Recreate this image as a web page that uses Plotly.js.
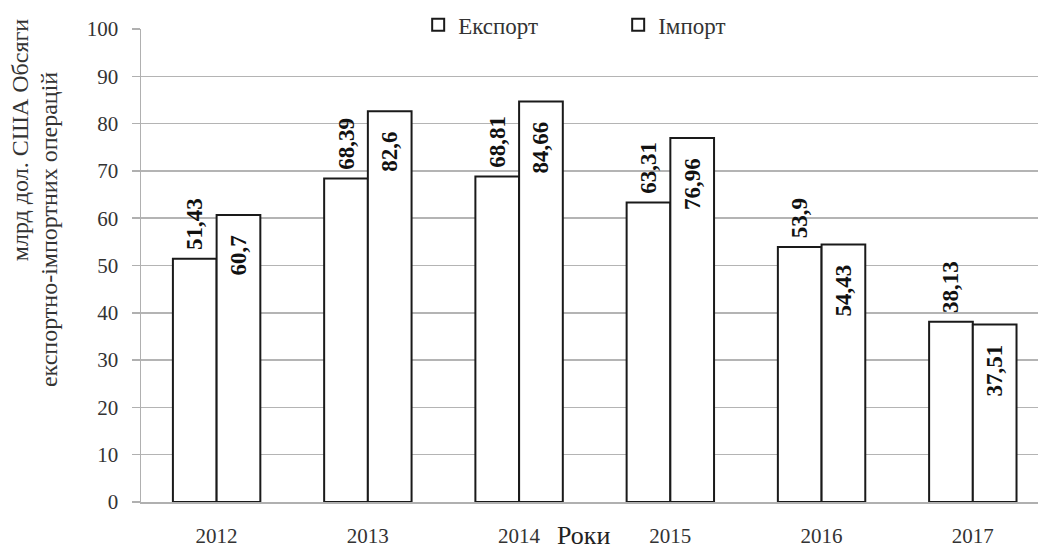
<!DOCTYPE html>
<html>
<head>
<meta charset="utf-8">
<script src="https://cdn.plot.ly/plotly-3.0.1.min.js"></script>
<style>html,body{margin:0;padding:0;background:#fff;}#chart{width:1038px;height:552px;}</style>
</head>
<body>
<div id="chart"></div>
<script>
const years = ['2012', '2013', '2014', '2015', '2016', '2017'];
const exportValues = [51.43, 68.39, 68.81, 63.31, 53.9, 38.13];
const importValues = [60.7, 82.6, 84.66, 76.96, 54.43, 37.51];
const exportName = 'Експорт';
const importName = 'Імпорт';
const yTitleLine1 = 'млрд дол. США Обсяги';
const yTitleLine2 = 'експортно-імпортних операцій';
const xTitle = 'Роки';

const fmt = v => String(v).replace('.', ',');
const NB = '\u00a0';
const serif = 'Liberation Serif, Times New Roman, serif';

const barStyle = {color: '#ffffff', line: {color: '#1a1a1a', width: 2}};

const traces = [
  {
    type: 'bar', name: exportName, x: years, y: exportValues,
    // leading no-break space leaves the small gap above the bar seen in the reference
    text: exportValues.map(v => NB + fmt(v)), textposition: 'outside', textangle: -90,
    textfont: {family: serif, size: 23, color: '#111', weight: 'bold'},
    marker: barStyle, cliponaxis: false, constraintext: 'none', hoverinfo: 'x+y'
  },
  {
    type: 'bar', name: importName, x: years, y: importValues,
    // trailing no-break spaces push the label down from the bar top as in the reference
    text: importValues.map(v => fmt(v) + NB + NB + NB), textposition: 'inside', insidetextanchor: 'end', textangle: -90,
    textfont: {family: serif, size: 23, color: '#111', weight: 'bold'},
    marker: barStyle, cliponaxis: false, constraintext: 'none', hoverinfo: 'x+y'
  }
];

const layout = {
  width: 1038, height: 552,
  margin: {l: 141, r: 0, t: 29, b: 50},
  paper_bgcolor: '#fff', plot_bgcolor: '#fff',
  font: {family: serif, color: '#333'},
  barmode: 'group', bargap: 0.422, bargroupgap: 0,
  showlegend: true,
  legend: {
    orientation: 'h', x: 0.309, xanchor: 'left', y: 1.009, yanchor: 'middle',
    bgcolor: 'rgba(0,0,0,0)', font: {family: serif, size: 23, color: '#333'},
    entrywidth: 155, entrywidthmode: 'pixels', itemwidth: 30
  },
  xaxis: {
    type: 'category', range: [-0.5, 5.431],
    showline: true, linecolor: '#b0b0b0', linewidth: 1.5,
    ticks: '', ticklabelstandoff: 14,
    tickfont: {family: serif, size: 21, color: '#333'},
    showgrid: false, zeroline: false
  },
  yaxis: {
    range: [0, 100], dtick: 10,
    showline: true, linecolor: '#b0b0b0', linewidth: 1.5,
    ticks: 'outside', ticklen: 8, tickcolor: '#b0b0b0', tickwidth: 1.5,
    ticklabelstandoff: 9,
    tickfont: {family: serif, size: 21, color: '#333'},
    showgrid: true, gridcolor: '#b4b4b4', gridwidth: 1.5, zeroline: false
  },
  annotations: [
    {text: xTitle, xref: 'paper', yref: 'paper', x: 0.4935, y: -0.071, xanchor: 'center', yanchor: 'middle',
     showarrow: false, font: {family: serif, size: 26, color: '#222'}},
    {text: yTitleLine1, xref: 'paper', yref: 'paper', x: -0.1345, y: 0.7655, xanchor: 'center', yanchor: 'middle',
     textangle: -90, showarrow: false, font: {family: serif, size: 24, color: '#333'}},
    {text: yTitleLine2, xref: 'paper', yref: 'paper', x: -0.1025, y: 0.575, xanchor: 'center', yanchor: 'middle',
     textangle: -90, showarrow: false, font: {family: serif, size: 24, color: '#333'}}
  ]
};

Plotly.newPlot('chart', traces, layout, {displayModeBar: false, staticPlot: true});
</script>
</body>
</html>
